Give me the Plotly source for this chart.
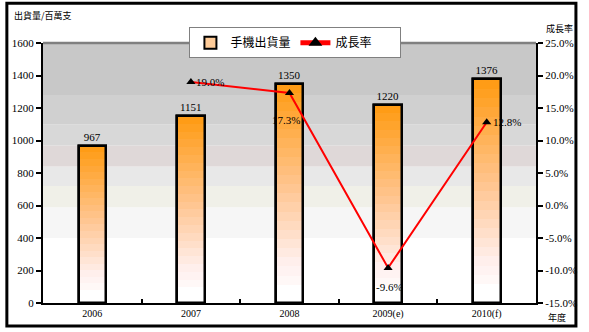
import plotly.graph_objects as go

years = ["2006", "2007", "2008", "2009(e)", "2010(f)"]
shipments = [967, 1151, 1350, 1220, 1376]
growth = [None, 19.0, 17.3, -9.6, 12.8]
growth_labels = ["", "19.0%", "17.3%", "-9.6%", "12.8%"]
left_ticks = [0, 200, 400, 600, 800, 1000, 1200, 1400, 1600]
right_ticks = [-15, -10, -5, 0, 5, 10, 15, 20, 25]
right_tick_labels = ["-15.0%", "-10.0%", "-5.0%", "0.0%", "5.0%", "10.0%", "15.0%", "20.0%", "25.0%"]

SERIF = "Liberation Serif"
CJK = "Noto Sans CJK TC"
BAR_W = 0.28
N_SEG = 24

# background bands (style)
bands = [(0, 400, "#ffffff"), (400, 590, "#f6f6f6"), (590, 720, "#f0f0e8"),
         (720, 840, "#e8e8e8"), (840, 970, "#dfd8d8"), (970, 1100, "#d8d8d8"),
         (1100, 1280, "#d0d0d0"), (1280, 1600, "#c8c8c8")]


def lerp(c1, c2, t):
    a = [int(c1[i:i + 2], 16) for i in (1, 3, 5)]
    b = [int(c2[i:i + 2], 16) for i in (1, 3, 5)]
    return "#%02x%02x%02x" % tuple(round(a[k] + (b[k] - a[k]) * t) for k in range(3))


def grad(f):
    if f < 0.08:
        return "#ffffff"
    if f < 0.18:
        return lerp("#fffafa", "#fff0ee", (f - 0.08) / 0.1)
    if f < 0.5:
        return lerp("#fff0ee", "#ffc898", (f - 0.18) / 0.32)
    return lerp("#ffc898", "#ff9a10", (f - 0.5) / 0.5)


fig = go.Figure()

# base bar (legend swatch)
fig.add_trace(go.Bar(x=years, y=shipments, width=BAR_W, name="手機出貨量",
                     marker=dict(color="#ffcc99", line=dict(color="black", width=2.5)),
                     showlegend=True))
for i in range(N_SEG):
    f = (i + 0.5) / N_SEG
    fig.add_trace(go.Bar(x=years, y=[v / N_SEG for v in shipments],
                         base=[v * i / N_SEG for v in shipments], width=BAR_W,
                         marker=dict(color=grad(f), line=dict(width=0)),
                         showlegend=False, hoverinfo="skip"))
# outline + labels
fig.add_trace(go.Bar(x=years, y=shipments, width=BAR_W, showlegend=False,
                     marker=dict(color="rgba(0,0,0,0)", line=dict(color="black", width=2.5)),
                     text=[str(v) for v in shipments], textposition="outside",
                     textfont=dict(family=SERIF, size=11, color="black"), cliponaxis=False))

fig.add_trace(go.Scatter(x=years, y=growth, yaxis="y2", name="成長率", mode="lines+markers",
                         line=dict(color="#ff0000", width=2),
                         marker=dict(symbol="triangle-up", size=8, color="black"),
                         connectgaps=False))

label_shift = [(0, 0), (19, 0), (-4, -27), (1, -19), (20, 0)]
for idx, (g, t, (dx, dy)) in enumerate(zip(growth, growth_labels, label_shift)):
    if g is None:
        continue
    fig.add_annotation(x=idx, xref="x", y=g, yref="y2", text=t, showarrow=False,
                       xshift=dx, yshift=dy,
                       font=dict(family=SERIF, size=11, color="black"))

shapes = []
for y0, y1, c in bands:
    shapes.append(dict(type="rect", xref="paper", yref="y", x0=0, x1=1, y0=y0, y1=y1,
                       fillcolor=c, line=dict(width=0), layer="below"))
shapes.append(dict(type="line", xref="paper", yref="paper", x0=0, x1=1, y0=1, y1=1,
                   line=dict(color="#808080", width=2.5)))
shapes.append(dict(type="rect", xref="paper", yref="paper", x0=-0.0733, x1=1.081,
                   y0=-0.088, y1=1.153, line=dict(color="black", width=3)))

fig.add_annotation(xref="paper", yref="paper", x=-0.063, y=1.107, xanchor="left", yanchor="middle",
                   text="出貨量/百萬支", showarrow=False, font=dict(family=CJK, size=9, color="black"))
fig.add_annotation(xref="paper", yref="paper", x=1.016, y=1.057, xanchor="left", yanchor="middle",
                   text="成長率", showarrow=False, font=dict(family=CJK, size=9, color="black"))
fig.add_annotation(xref="paper", yref="paper", x=1.02, y=-0.055, xanchor="left", yanchor="middle",
                   text="年度", showarrow=False, font=dict(family=CJK, size=9, color="black"))

fig.update_layout(
    width=589, height=332,
    margin=dict(l=40, r=44, t=43, b=28),
    paper_bgcolor="white", plot_bgcolor="white",
    barmode="overlay", bargap=0,
    shapes=shapes,
    font=dict(family=SERIF, size=11, color="black"),
    legend=dict(orientation="h", x=0.297, y=1.061, xanchor="left", yanchor="top",
                bgcolor="white", bordercolor="#808080", borderwidth=1,
                font=dict(family=CJK, size=12), entrywidth=60, itemwidth=30,
                itemsizing="constant"),
    xaxis=dict(type="category", showline=True, linecolor="black", linewidth=2,
               ticks="inside", tickson="boundaries", ticklen=4, tickwidth=2, tickcolor="black",
               showgrid=False, tickfont=dict(family=SERIF, size=10), range=[-0.5, 4.5]),
    yaxis=dict(range=[0, 1600], tickvals=left_ticks, showline=True, linecolor="black", linewidth=2,
               ticks="outside", ticklen=5, tickwidth=2, tickcolor="black", showgrid=False,
               zeroline=False, tickfont=dict(family=SERIF, size=11)),
    yaxis2=dict(overlaying="y", side="right", range=[-15, 25], tickvals=right_ticks,
                ticktext=right_tick_labels, showline=True, linecolor="black", linewidth=2,
                ticks="outside", ticklen=5, tickwidth=2, tickcolor="black", showgrid=False,
                zeroline=False, tickfont=dict(family=SERIF, size=11)),
)

fig.write_html("out.html")
